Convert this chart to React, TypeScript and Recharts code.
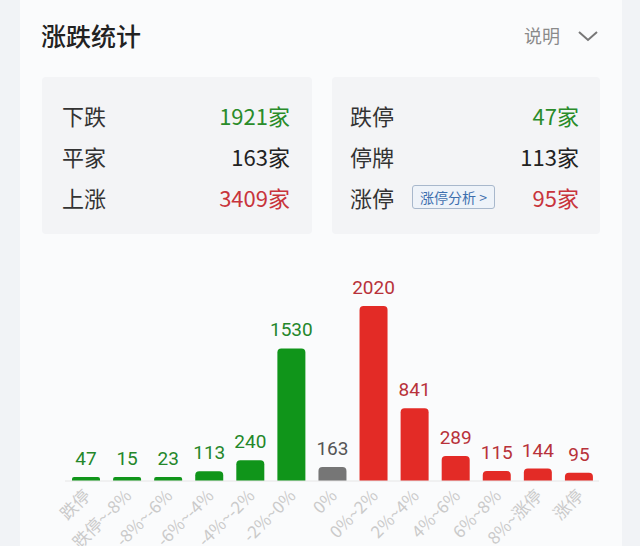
import React from "react"
import { BarChart, Bar, XAxis, YAxis, Cell, LabelList } from "recharts"

const categories = [
  "跌停",
  "跌停~-8%",
  "-8%~-6%",
  "-6%~-4%",
  "-4%~-2%",
  "-2%~0%",
  "0%",
  "0%~2%",
  "2%~4%",
  "4%~6%",
  "6%~8%",
  "8%~涨停",
  "涨停",
]
const counts = [47, 15, 23, 113, 240, 1530, 163, 2020, 841, 289, 115, 144, 95]
const kinds = ["down", "down", "down", "down", "down", "down", "flat", "up", "up", "up", "up", "up", "up"]

const leftStats = [
  { label: "下跌", value: "1921", kind: "down" },
  { label: "平家", value: "163", kind: "flat" },
  { label: "上涨", value: "3409", kind: "up" },
]
const rightStats = [
  { label: "跌停", value: "47", kind: "down" },
  { label: "停牌", value: "113", kind: "flat" },
  { label: "涨停", value: "95", kind: "up" },
]

const barColor: Record<string, string> = { down: "#10951a", flat: "#767676", up: "#e32b26" }
const labelColor: Record<string, string> = { down: "#24872a", flat: "#555555", up: "#b8323a" }
const statColor: Record<string, string> = { down: "#2a8c2a", flat: "#222222", up: "#c8343c" }

const data = categories.map((name, i) => ({ name, value: counts[i], kind: kinds[i] }))

const CJK = '"Noto Sans CJK SC", "Noto Sans", sans-serif'

// rotated category labels, anchored just under the bar
const Tick = (props: any) => {
  const { x, y, payload } = props
  const tx = x + 6
  const ty = y + 8
  return (
    <text
      x={tx}
      y={ty}
      textAnchor="end"
      fill="#cacaca"
      fontSize={17}
      fontFamily={CJK}
      transform={`rotate(-45, ${tx}, ${ty})`}
    >
      {payload.value}
    </text>
  )
}

const ValueLabel = (props: any) => {
  const { x, y, width, value, index } = props
  return (
    <text
      x={x + width / 2}
      y={y - 12}
      textAnchor="middle"
      fill={labelColor[kinds[index]]}
      fontSize={19}
      fontFamily="Roboto, sans-serif"
    >
      {value}
    </text>
  )
}

const StatRow = ({ label, value, kind, top, left, right, badge }: any) => (
  <div
    style={{
      position: "absolute",
      left,
      width: right - left,
      top,
      height: 30,
      display: "flex",
      alignItems: "center",
      fontSize: 22,
      fontFamily: CJK,
    }}
  >
    <span style={{ color: "#333" }}>{label}</span>
    {badge && (
      <span
        style={{
          marginLeft: 18,
          fontSize: 14,
          color: "#3d6fae",
          background: "#eef3f9",
          border: "1px solid #a8b8cc",
          borderRadius: 3,
          padding: "0 7px",
          height: 22,
          lineHeight: "22px",
        }}
      >
        涨停分析 &gt;
      </span>
    )}
    <span style={{ marginLeft: "auto", color: statColor[kind] }}>
      {value}家
    </span>
  </div>
)

export default function App() {
  return (
    <div
      style={{
        position: "absolute",
        left: 0,
        top: 0,
        width: 640,
        height: 546,
        background: "#f1f3f6",
        overflow: "hidden",
        fontFamily: CJK,
      }}
    >
      <div style={{ position: "absolute", left: 20, top: 0, width: 602, height: 546, background: "#fafbfc" }} />
      <div
        style={{
          position: "absolute",
          left: 41,
          top: 18,
          fontSize: 25,
          fontWeight: 500,
          color: "#222",
          lineHeight: "34px",
        }}
      >
        涨跌统计
      </div>
      <div style={{ position: "absolute", left: 524, top: 22, fontSize: 18, color: "#8a8a8a", lineHeight: "26px" }}>
        说明
      </div>
      <svg style={{ position: "absolute", left: 577, top: 29 }} width={22} height={14}>
        <polyline points="2,3 11,11 20,3" fill="none" stroke="#777" strokeWidth={2} />
      </svg>

      <div style={{ position: "absolute", left: 42, top: 77, width: 270, height: 157, background: "#f3f4f6", borderRadius: 4 }} />
      <div style={{ position: "absolute", left: 332, top: 77, width: 268, height: 157, background: "#f3f4f6", borderRadius: 4 }} />
      {leftStats.map((s, i) => (
        <StatRow key={s.label} {...s} top={100 + i * 41} left={62} right={290} />
      ))}
      {rightStats.map((s, i) => (
        <StatRow key={s.label} {...s} top={100 + i * 41} left={350} right={579} badge={i === 2} />
      ))}

      <div style={{ position: "absolute", left: 20, top: 250 }}>
        <BarChart width={600} height={296} data={data} margin={{ top: 56, right: 21, bottom: 0, left: 45 }}>
          <XAxis
            dataKey="name"
            interval={0}
            tickLine={false}
            axisLine={{ stroke: "#e6e6e6" }}
            height={65}
            tick={<Tick />}
          />
          <YAxis hide domain={[0, 2020]} />
          <Bar dataKey="value" barSize={28} minPointSize={4} radius={[4, 4, 0, 0]} isAnimationActive={false}>
            {data.map((d) => (
              <Cell key={d.name} fill={barColor[d.kind]} />
            ))}
            <LabelList dataKey="value" content={<ValueLabel />} />
          </Bar>
        </BarChart>
      </div>
    </div>
  )
}
